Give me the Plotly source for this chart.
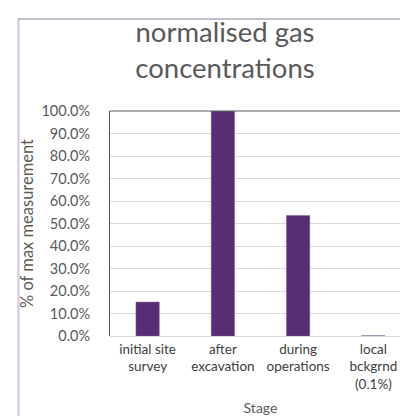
import plotly.graph_objects as go

categories = ["initial site<br>survey", "after<br>excavation", "during<br>operations", "local<br>bckgrnd<br>(0.1%)"]
values = [0.151, 1.0, 0.536, 0.001]
y_ticks = [i / 10 for i in range(11)]

W, H = 408, 416
L, R, T, B = 102, 5, 103, 88
pw, ph = W - L - R, H - T - B

font_family = "Lato, 'Noto Sans', sans-serif"
grey = "#595959"

fig = go.Figure(go.Bar(
    x=categories, y=values,
    marker=dict(color="#582D73", line=dict(color="#7a6290", width=0.5)),
    width=0.31,
))

def px_to_paper_x(px):
    return (px - L) / pw

def px_to_paper_y(py):
    return (H - B - py) / ph

fig.update_layout(
    width=W, height=H,
    margin=dict(l=L, r=R, t=T, b=B, pad=0),
    paper_bgcolor="white", plot_bgcolor="white",
    showlegend=False,
    title=dict(text="normalised gas<br>concentrations", x=217 / W, xref="container",
               xanchor="center", y=1 - 34 / H, yref="container", yanchor="middle",
               font=dict(family=font_family, size=27.5, color=grey)),
    font=dict(family=font_family, color=grey),
    xaxis=dict(
        showline=False, showgrid=False, ticks="", ticklabelstandoff=3,
        tickfont=dict(size=13.5, color="#404040"),
        title=dict(text="Stage", font=dict(size=14, color=grey), standoff=12),
        fixedrange=True,
    ),
    yaxis=dict(
        range=[0, 1.0], tickvals=y_ticks, tickformat=".1%",
        showgrid=True, gridcolor="#d9d9d9", gridwidth=1,
        showline=True, linecolor="#595959", linewidth=1, mirror=True,
        zeroline=True, zerolinecolor="#d9d9d9", zerolinewidth=1,
        ticks="", ticklabelstandoff=16,
        tickfont=dict(size=14.5, color=grey),
        title=dict(text="% of max measurement", font=dict(size=16.5, color=grey), standoff=3),
        fixedrange=True,
    ),
    shapes=[
        dict(type="line", xref="paper", yref="paper", x0=0, x1=1, y0=1, y1=1,
             line=dict(color="#595959", width=1)),
        dict(type="line", xref="paper", yref="paper",
             x0=px_to_paper_x(10.5), x1=px_to_paper_x(10.5),
             y0=px_to_paper_y(11), y1=px_to_paper_y(H + 5),
             line=dict(color="#d3c4e0", width=2)),
        dict(type="line", xref="paper", yref="paper",
             x0=px_to_paper_x(10), x1=px_to_paper_x(W + 5),
             y0=px_to_paper_y(11), y1=px_to_paper_y(11),
             line=dict(color="#8c7a9e", width=1)),
    ],
)

fig.write_html("out.html")
